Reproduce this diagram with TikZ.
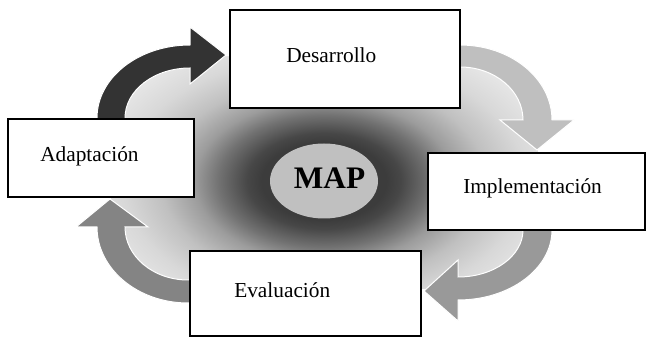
\documentclass[tikz,border=0pt]{standalone}
\usepackage{fontspec}
\setmainfont{Liberation Serif}
\usetikzlibrary{shapes.geometric}
\definecolor{arA}{HTML}{333333}
\definecolor{arB}{HTML}{BFBFBF}
\definecolor{arC}{HTML}{999999}
\definecolor{arD}{HTML}{848484}
\definecolor{mapfill}{HTML}{C0C0C0}
\definecolor{shA}{HTML}{3C3C3C}
\definecolor{shB}{HTML}{474747}
\definecolor{shC}{HTML}{727272}
\definecolor{shD}{HTML}{9C9C9C}
\definecolor{shE}{HTML}{C0C0C0}
\definecolor{shF}{HTML}{D8D8D8}
\definecolor{shG}{HTML}{E6E6E6}
\pgfdeclareradialshading{blobshade}{\pgfpoint{0bp}{0bp}}{color(0bp)=(shA); color(6.5bp)=(shA); color(8bp)=(shB); color(11bp)=(shC); color(13.5bp)=(shD); color(17bp)=(shE); color(21bp)=(shF); color(25bp)=(shG); color(50bp)=(shG)}
\tikzset{
  box/.style={draw=black, fill=white, line width=1.5pt, rectangle, inner sep=0pt},
  lbl/.style={inner sep=0pt, font=\fontsize{16}{19}\selectfont},
  arrowshape/.style={draw=white, line width=0.75pt, line join=miter},
  mapell/.style={ellipse, fill=mapfill, draw=none, inner sep=0pt, minimum width=81pt, minimum height=56.25pt}
}
\begin{document}
\begin{tikzpicture}[x=0.75pt,y=-0.75pt]
\useasboundingbox (0,0) rectangle (647,338);
\fill[white] (0,0) rectangle (647,338);
% background blob following the middle of the arrow shafts
\begin{scope}
  \clip (111,118) arc[start angle=180, end angle=270, x radius=79, y radius=61.5]
    -- (460,56) arc[start angle=270, end angle=360, x radius=77.5, y radius=64]
    -- (537.5,230) arc[start angle=0, end angle=90, x radius=79.5, y radius=58.5]
    -- (188,291.5) arc[start angle=90, end angle=180, x radius=77, y radius=64.5]
    -- cycle;
  \fill[shG] (90,30) rectangle (560,310);
  \shade[shading=blobshade] (324,181) ellipse [x radius=240, y radius=150];
\end{scope}
% arrow Adaptacion -> Desarrollo
\fill[arA, arrowshape] (97,125) -- (97,118) arc[start angle=180, end angle=270, x radius=93, y radius=73]
  -- (190,27) -- (226,55) -- (190,84) -- (190,68)
  arc[start angle=270, end angle=180, x radius=65, y radius=50] -- (125,125) -- cycle;
% arrow Desarrollo -> Implementacion
\fill[arB, arrowshape] (452,45) -- (460,45) arc[start angle=270, end angle=360, x radius=92, y radius=75]
  -- (574,120) -- (537,150) -- (500,120) -- (523,120)
  arc[start angle=360, end angle=270, x radius=63, y radius=53] -- (452,67) -- cycle;
% arrow Implementacion -> Evaluacion
\fill[arC, arrowshape] (552,222) -- (552,230) arc[start angle=0, end angle=90, x radius=94, y radius=70]
  -- (458,321) -- (424,291) -- (458,260) -- (458,277)
  arc[start angle=90, end angle=0, x radius=65, y radius=47] -- (523,222) -- cycle;
% arrow Evaluacion -> Adaptacion
\fill[arD, arrowshape] (196,303) -- (188,303) arc[start angle=90, end angle=180, x radius=91, y radius=76]
  -- (76,227) -- (110,199) -- (148,227) -- (125,227)
  arc[start angle=180, end angle=90, x radius=63, y radius=53] -- (196,280) -- cycle;
% boxes
\node[box, minimum width=172.5pt, minimum height=73.5pt] (des) at (345,59) {};
\node[box, minimum width=139.5pt, minimum height=58.5pt] (ada) at (101,158) {};
\node[box, minimum width=162.75pt, minimum height=57.75pt] (imp) at (536.5,191.5) {};
\node[box, minimum width=173.25pt, minimum height=63.75pt] (eva) at (305.5,293.5) {};
% centre
\node[mapell] (map) at (324,181) {};
% labels
\node[lbl, anchor=base west] (desl) at (286,63) {Desarrollo};
\node[lbl, anchor=base west] (adal) at (40,162) {Adaptación};
\node[lbl, anchor=base west] (impl) at (463,194) {Implementación};
\node[lbl, anchor=base west] (eval) at (234,298) {Evaluación};
\node[inner sep=0pt, anchor=base, font=\bfseries\fontsize{23.5}{28}\selectfont] (mapl) at (329.5,189) {MAP};
\end{tikzpicture}
\end{document}
